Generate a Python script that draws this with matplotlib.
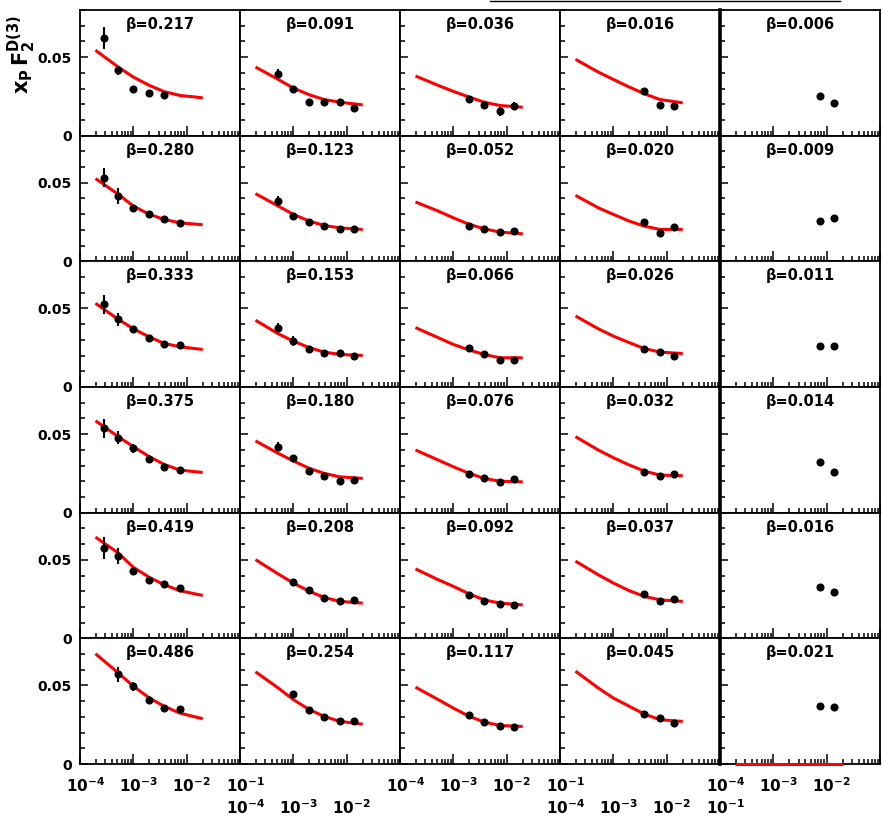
import numpy as np
import matplotlib
matplotlib.use("Agg")
import matplotlib.pyplot as plt
from matplotlib.lines import Line2D
from matplotlib.transforms import blended_transform_factory
import matplotlib.font_manager as fm

# ---------------- data ----------------
x_points = [2.8e-4, 5.2e-4, 1.0e-3, 2.0e-3, 3.8e-3, 7.5e-3, 1.4e-2]
x_fit = [1.95e-4, 5.2e-4, 1.0e-3, 2.0e-3, 3.8e-3, 7.5e-3, 2.0e-2]

beta_c0 = ["0.217", "0.280", "0.333", "0.375", "0.419", "0.486"]
beta_c1 = ["0.091", "0.123", "0.153", "0.180", "0.208", "0.254"]
beta_c2 = ["0.036", "0.052", "0.066", "0.076", "0.092", "0.117"]
beta_c3 = ["0.016", "0.020", "0.026", "0.032", "0.037", "0.045"]
beta_c4 = ["0.006", "0.009", "0.011", "0.014", "0.016", "0.021"]

idx_c0 = [[0, 1, 2, 3, 4], [0, 1, 2, 3, 4, 5], [0, 1, 2, 3, 4, 5],
          [0, 1, 2, 3, 4, 5], [0, 1, 2, 3, 4, 5], [1, 2, 3, 4, 5]]
y_c0 = [[0.0619, 0.0416, 0.0294, 0.0273, 0.0260],
        [0.0533, 0.0416, 0.0341, 0.0299, 0.0271, 0.0245],
        [0.0527, 0.0431, 0.0367, 0.0314, 0.0271, 0.0265],
        [0.0538, 0.0478, 0.0410, 0.0341, 0.0292, 0.0271],
        [0.0576, 0.0523, 0.0427, 0.0373, 0.0346, 0.0320],
        [0.0570, 0.0495, 0.0410, 0.0356, 0.0352]]
err_c0 = [[0.007, 0.003, 0.002, 0.0015, 0.0015],
          [0.006, 0.005, 0.002, 0.0015, 0.0015, 0.0015],
          [0.006, 0.004, 0.002, 0.0015, 0.0015, 0.0015],
          [0.006, 0.004, 0.003, 0.0015, 0.0015, 0.0015],
          [0.007, 0.005, 0.002, 0.002, 0.0015, 0.0015],
          [0.005, 0.003, 0.002, 0.0015, 0.0015]]
fit_c0 = [[0.0544, 0.0437, 0.0373, 0.0320, 0.0280, 0.0256, 0.0241],
          [0.0527, 0.0427, 0.0352, 0.0299, 0.0267, 0.0245, 0.0233],
          [0.0533, 0.0431, 0.0371, 0.0318, 0.0277, 0.0256, 0.0239],
          [0.0585, 0.0484, 0.0420, 0.0356, 0.0307, 0.0271, 0.0256],
          [0.0644, 0.0544, 0.0452, 0.0388, 0.0341, 0.0303, 0.0273],
          [0.0702, 0.0580, 0.0495, 0.0420, 0.0367, 0.0324, 0.0288]]

idx_c1 = [[1, 2, 3, 4, 5, 6], [1, 2, 3, 4, 5, 6], [1, 2, 3, 4, 5, 6],
          [1, 2, 3, 4, 5, 6], [2, 3, 4, 5, 6], [2, 3, 4, 5, 6]]
y_c1 = [[0.0395, 0.0299, 0.0213, 0.0213, 0.0213, 0.0175],
        [0.0384, 0.0288, 0.0250, 0.0228, 0.0207, 0.0207],
        [0.0378, 0.0292, 0.0239, 0.0218, 0.0218, 0.0200],
        [0.0420, 0.0350, 0.0265, 0.0235, 0.0200, 0.0207],
        [0.0358, 0.0309, 0.0256, 0.0235, 0.0245],
        [0.0446, 0.0346, 0.0299, 0.0271, 0.0275]]
err_c1 = [[0.003, 0.002, 0.002, 0.0015, 0.002, 0.0015],
          [0.003, 0.002, 0.0015, 0.0015, 0.0015, 0.0015],
          [0.003, 0.003, 0.0015, 0.0015, 0.0015, 0.0015],
          [0.003, 0.002, 0.002, 0.0015, 0.0015, 0.0015],
          [0.002, 0.0015, 0.0015, 0.0015, 0.0015],
          [0.002, 0.0015, 0.0015, 0.0015, 0.0015]]
fit_c1 = [[0.0437, 0.0358, 0.0303, 0.0260, 0.0230, 0.0213, 0.0196],
          [0.0431, 0.0352, 0.0299, 0.0256, 0.0228, 0.0213, 0.0203],
          [0.0425, 0.0339, 0.0292, 0.0250, 0.0222, 0.0207, 0.0201],
          [0.0457, 0.0378, 0.0329, 0.0282, 0.0250, 0.0228, 0.0218],
          [0.0501, 0.0410, 0.0352, 0.0299, 0.0260, 0.0235, 0.0224],
          [0.0587, 0.0484, 0.0410, 0.0346, 0.0303, 0.0271, 0.0254]]

idx_c2 = [[3, 4, 5, 6]] * 6
y_c2 = [[0.0235, 0.0198, 0.0154, 0.0192],
        [0.0224, 0.0207, 0.0186, 0.0192],
        [0.0250, 0.0213, 0.0171, 0.0171],
        [0.0243, 0.0222, 0.0196, 0.0213],
        [0.0273, 0.0235, 0.0218, 0.0213],
        [0.0314, 0.0267, 0.0239, 0.0233]]
err_c2 = [[0.0015, 0.0015, 0.003, 0.002],
          [0.0015, 0.0015, 0.0015, 0.0015],
          [0.0015, 0.0015, 0.0015, 0.0015],
          [0.0015, 0.0015, 0.0015, 0.0015],
          [0.002, 0.0015, 0.0015, 0.0015],
          [0.002, 0.0015, 0.0015, 0.0015]]
fit_c2 = [[0.0380, 0.0320, 0.0282, 0.0245, 0.0213, 0.0192, 0.0181],
          [0.0378, 0.0320, 0.0277, 0.0235, 0.0207, 0.0186, 0.0175],
          [0.0378, 0.0314, 0.0271, 0.0235, 0.0207, 0.0186, 0.0186],
          [0.0399, 0.0335, 0.0292, 0.0250, 0.0218, 0.0200, 0.0196],
          [0.0442, 0.0373, 0.0331, 0.0282, 0.0245, 0.0224, 0.0213],
          [0.0489, 0.0410, 0.0356, 0.0303, 0.0267, 0.0245, 0.0239]]

idx_c3 = [[4, 5, 6]] * 6
y_c3 = [[0.0282, 0.0198, 0.0192],
        [0.0250, 0.0181, 0.0220],
        [0.0243, 0.0222, 0.0200],
        [0.0256, 0.0235, 0.0243],
        [0.0282, 0.0235, 0.0252],
        [0.0318, 0.0292, 0.0260]]
err_c3 = [[0.002, 0.0015, 0.0015]] * 6
fit_c3 = [[0.0486, 0.0405, 0.0358, 0.0309, 0.0267, 0.0230, 0.0209],
          [0.0420, 0.0341, 0.0299, 0.0256, 0.0224, 0.0203, 0.0203],
          [0.0452, 0.0371, 0.0324, 0.0282, 0.0245, 0.0222, 0.0213],
          [0.0484, 0.0399, 0.0350, 0.0303, 0.0265, 0.0239, 0.0235],
          [0.0491, 0.0405, 0.0352, 0.0303, 0.0267, 0.0245, 0.0235],
          [0.0591, 0.0484, 0.0420, 0.0367, 0.0318, 0.0282, 0.0271]]

idx_c4 = [[5, 6]] * 6
y_c4 = [[0.0252, 0.0207],
        [0.0256, 0.0277],
        [0.0258, 0.0262],
        [0.0320, 0.0260],
        [0.0326, 0.0294],
        [0.0367, 0.0360]]
err_c4 = [[0.0015, 0.0015]] * 6
fit_c4 = [None, None, None, None, None, [0.0, 0.0, 0.0, 0.0, 0.0, 0.0, 0.0]]

xtick_vals = [1e-4, 1e-3, 1e-2, 1e-1]
xtick_text = [r"$\mathbf{10^{-4}}$", r"$\mathbf{10^{-3}}$",
              r"$\mathbf{10^{-2}}$", r"$\mathbf{10^{-1}}$"]
# number of decade labels per column and their row (0 = upper, 1 = lower)
xlabel_count = [4, 3, 4, 4, 3]
xlabel_level = [0, 1, 0, 1, 0]

columns = [
    (beta_c0, idx_c0, y_c0, err_c0, fit_c0),
    (beta_c1, idx_c1, y_c1, err_c1, fit_c1),
    (beta_c2, idx_c2, y_c2, err_c2, fit_c2),
    (beta_c3, idx_c3, y_c3, err_c3, fit_c3),
    (beta_c4, idx_c4, y_c4, err_c4, fit_c4),
]

# ---------------- style ----------------
names = {f.name for f in fm.fontManager.ttflist}
cond = "Liberation Sans Narrow" if "Liberation Sans Narrow" in names else "DejaVu Sans"
plt.rcParams["font.family"] = [cond, "DejaVu Sans"]
plt.rcParams["mathtext.fontset"] = "custom"
plt.rcParams["mathtext.bf"] = cond + ":bold"
plt.rcParams["mathtext.rm"] = cond
plt.rcParams["mathtext.it"] = cond + ":italic"

W, H = 882, 821
fig = plt.figure(figsize=(W / 100, H / 100), dpi=100)

left_px, top_px = 80, 10
col_w = 160
row_h = (764 - 10) / 6

for c, (betas, idxs, ys, errs, fits) in enumerate(columns):
    for r in range(6):
        x0 = (left_px + c * col_w) / W
        y0 = 1 - (top_px + (r + 1) * row_h) / H
        ax = fig.add_axes([x0, y0, col_w / W, row_h / H])
        ax.set_xscale("log")
        ax.set_xlim(1e-4, 1e-1)
        ax.set_ylim(0, 0.08)
        for s in ax.spines.values():
            s.set_linewidth(1.3)
        if c == 4:
            ax.spines["left"].set_linewidth(2.6)
        ax.set_yticks([0, 0.05])
        ax.set_yticks(np.arange(0.01, 0.08, 0.01), minor=True)
        ax.tick_params(which="both", direction="in", top=False, right=False,
                       width=1.1)
        ax.tick_params(which="major", length=6)
        ax.tick_params(which="minor", length=3.5)
        ax.tick_params(axis="x", which="major", length=7)
        ax.set_xticklabels([])
        ax.xaxis.set_minor_formatter(plt.NullFormatter())
        if c == 0:
            ax.set_yticklabels(["0", "0.05"], fontsize=10, fontweight="bold")
            ax.tick_params(axis="y", pad=6)
        else:
            ax.set_yticklabels([])

        f = fits[r]
        if f is not None:
            ax.plot(x_fit, f, color="red", lw=2.2, zorder=4, clip_on=False,
                    solid_capstyle="butt")
        xs = [x_points[i] for i in idxs[r]]
        ax.errorbar(xs, ys[r], yerr=errs[r], fmt="o", color="black",
                    ms=4.8, elinewidth=1.5, capsize=0, zorder=5)

        ax.text(0.5, 0.885, "\u03b2=" + betas[r], transform=ax.transAxes,
                ha="center", va="center", fontsize=10.5, fontweight="bold")

        if r == 5:
            tr = blended_transform_factory(ax.transData, ax.transAxes)
            ylev = -0.17 if xlabel_level[c] == 0 else -0.35
            for k in range(xlabel_count[c]):
                ax.text(xtick_vals[k] * 1.25, ylev, xtick_text[k], transform=tr,
                        ha="center", va="center", fontsize=11, clip_on=False)

fig.text(0.024, 0.934, r"$\mathbf{x_{P}\,F_{2}^{D(3)}}$", rotation=90,
         ha="center", va="center", fontsize=15)

fig.add_artist(Line2D([490 / W, 840 / W], [1 - 1.5 / H, 1 - 1.5 / H],
                      color="black", lw=1.0))

fig.savefig("out.png", dpi=100)
